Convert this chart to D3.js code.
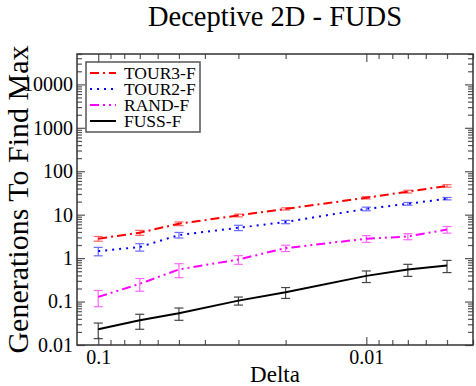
<!DOCTYPE html>
<html>
<head>
<meta charset="utf-8">
<script src="https://cdn.jsdelivr.net/npm/d3@7"></script>
<style>
  body { margin: 0; background: #fff; }
  svg { display: block; font-family: "Liberation Serif", "Times New Roman", serif; }
</style>
</head>
<body>
<div id="chart"></div>
<script>
// data
const deltas = [0.1, 0.07, 0.05, 0.03, 0.02, 0.01, 0.007, 0.005];

const tour3 = [2.8, 3.85, 6.2, 9.6, 13.6, 24.5, 34, 46];
const tour3Err = [0.35, 0.5, 0.6, 0.7, 0.8, 1.5, 2.5, 3];
const tour2 = [1.45, 1.8, 3.4, 5.0, 6.8, 13.6, 17.8, 23.4];
const tour2Err = [0.32, 0.35, 0.5, 0.7, 0.6, 1.3, 1.3, 1.5];
const rand = [0.128, 0.256, 0.55, 0.93, 1.7, 2.8, 3.15, 4.55];
const randErr = [0.052, 0.083, 0.195, 0.21, 0.28, 0.5, 0.5, 0.8];
const fuss = [0.023, 0.037, 0.054, 0.105, 0.164, 0.39, 0.55, 0.675];
const fussErr = [0.009, 0.014, 0.017, 0.022, 0.046, 0.116, 0.17, 0.21];

const seriesNames = ["TOUR3-F", "TOUR2-F", "RAND-F", "FUSS-F"];

const xMajor = [0.1, 0.01];
const yMajor = [0.01, 0.1, 1, 10, 100, 1000, 10000];
const yLabels = ["0.01", "0.1", "1", "10", "100", "1000", "10000"];

const width = 476, height = 386;
const margin = {left: 77, right: 3, top: 54, bottom: 41};

const svg = d3.select("#chart").append("svg")
    .attr("width", width)
    .attr("height", height);

const x = d3.scaleLog()
    .domain([0.12, 0.004])
    .range([margin.left, width - margin.right]);

const y = d3.scaleLog()
    .domain([0.01, 50000])
    .range([height - margin.bottom, margin.top]);

const series = [
    {name: seriesNames[0], values: tour3, err: tour3Err, color: "#ff0000", errColor: "#ff6060", dash: "9,4,2,4"},
    {name: seriesNames[1], values: tour2, err: tour2Err, color: "#0000ff", errColor: "#6a6aff", dash: "2,5"},
    {name: seriesNames[2], values: rand, err: randErr, color: "#ff00ff", errColor: "#ff66ff", dash: "9,4,2,4,2,4"},
    {name: seriesNames[3], values: fuss, err: fussErr, color: "#000000", errColor: "#444444", dash: null}
];

// minor tick values
const xMinor = [];
[0.1, 0.01, 0.001].forEach(d => {
    for (let k = 2; k <= 9; k++) {
        const v = d * k;
        if (v <= 0.12 && v >= 0.004 && v !== 0.1 && v !== 0.01) xMinor.push(v);
    }
});
const yMinor = [];
yMajor.concat([100000]).forEach(d => {
    for (let k = 2; k <= 9; k++) {
        const v = d * k;
        if (v <= 50000) yMinor.push(v);
    }
});

const plotBottom = height - margin.bottom;
const plotRight = width - margin.right;

function styleAxis(g) {
    g.select(".domain").remove();
    g.selectAll("line").attr("stroke", "#555").attr("stroke-width", 1.2);
    g.selectAll("text")
        .attr("font-family", "'Liberation Serif', 'Times New Roman', serif")
        .attr("font-size", "20px")
        .attr("fill", "#000");
}

// bottom axis
svg.append("g")
    .attr("transform", `translate(0,${plotBottom})`)
    .call(d3.axisBottom(x).tickValues(xMajor).tickFormat(d3.format("")).tickSizeInner(-8).tickSizeOuter(0).tickPadding(5))
    .call(styleAxis);
svg.append("g")
    .attr("transform", `translate(0,${plotBottom})`)
    .call(d3.axisBottom(x).tickValues(xMinor).tickFormat("").tickSizeInner(-5).tickSizeOuter(0))
    .call(styleAxis);

// top axis
svg.append("g")
    .attr("transform", `translate(0,${margin.top})`)
    .call(d3.axisTop(x).tickValues(xMajor).tickFormat("").tickSizeInner(-8).tickSizeOuter(0))
    .call(styleAxis);
svg.append("g")
    .attr("transform", `translate(0,${margin.top})`)
    .call(d3.axisTop(x).tickValues(xMinor).tickFormat("").tickSizeInner(-5).tickSizeOuter(0))
    .call(styleAxis);

// left axis
svg.append("g")
    .attr("transform", `translate(${margin.left},0)`)
    .call(d3.axisLeft(y).tickValues(yMajor).tickFormat((d, i) => yLabels[i]).tickSizeInner(-8).tickSizeOuter(0).tickPadding(4))
    .call(styleAxis);
svg.append("g")
    .attr("transform", `translate(${margin.left},0)`)
    .call(d3.axisLeft(y).tickValues(yMinor).tickFormat("").tickSizeInner(-5).tickSizeOuter(0))
    .call(styleAxis);

// right axis
svg.append("g")
    .attr("transform", `translate(${plotRight},0)`)
    .call(d3.axisRight(y).tickValues(yMajor).tickFormat("").tickSizeInner(-8).tickSizeOuter(0))
    .call(styleAxis);
svg.append("g")
    .attr("transform", `translate(${plotRight},0)`)
    .call(d3.axisRight(y).tickValues(yMinor).tickFormat("").tickSizeInner(-5).tickSizeOuter(0))
    .call(styleAxis);

// frame
svg.append("rect")
    .attr("x", margin.left)
    .attr("y", margin.top)
    .attr("width", plotRight - margin.left)
    .attr("height", plotBottom - margin.top)
    .attr("fill", "none")
    .attr("stroke", "#333")
    .attr("stroke-width", 1.5);

// series
const line = d3.line()
    .x((d, i) => x(deltas[i]))
    .y(d => y(d));

series.forEach(s => {
    const g = svg.append("g");

    // error bars
    s.values.forEach((v, i) => {
        const cx = x(deltas[i]);
        const y0 = y(v - s.err[i]);
        const y1 = y(v + s.err[i]);
        g.append("line")
            .attr("x1", cx).attr("x2", cx)
            .attr("y1", y0).attr("y2", y1)
            .attr("stroke", s.errColor)
            .attr("stroke-width", 1.2);
        [y0, y1].forEach(cy => {
            g.append("line")
                .attr("x1", cx - 4.5).attr("x2", cx + 4.5)
                .attr("y1", cy).attr("y2", cy)
                .attr("stroke", s.errColor)
                .attr("stroke-width", 1.2);
        });
    });

    g.append("path")
        .datum(s.values)
        .attr("d", line)
        .attr("fill", "none")
        .attr("stroke", s.color)
        .attr("stroke-width", 2)
        .attr("stroke-dasharray", s.dash);
});

// legend
const legend = svg.append("g")
    .attr("transform", "translate(86,62)");

legend.append("rect")
    .attr("width", 114)
    .attr("height", 70)
    .attr("fill", "#fff")
    .attr("stroke", "#555")
    .attr("stroke-width", 1.5);

series.forEach((s, i) => {
    const ly = 11 + i * 16;
    legend.append("line")
        .attr("x1", 4).attr("x2", 30)
        .attr("y1", ly).attr("y2", ly)
        .attr("stroke", s.color)
        .attr("stroke-width", 2)
        .attr("stroke-dasharray", s.dash);
    legend.append("text")
        .attr("x", 38)
        .attr("y", ly + 6)
        .attr("font-size", "17.5px")
        .text(s.name);
});

// title and axis labels
svg.append("text")
    .attr("x", (margin.left + plotRight) / 2)
    .attr("y", 26)
    .attr("text-anchor", "middle")
    .attr("font-size", "28.5px")
    .text("Deceptive 2D - FUDS");

svg.append("text")
    .attr("x", (margin.left + plotRight) / 2)
    .attr("y", 382)
    .attr("text-anchor", "middle")
    .attr("font-size", "23px")
    .text("Delta");

svg.append("text")
    .attr("transform", `translate(28,${(margin.top + plotBottom) / 2}) rotate(-90)`)
    .attr("text-anchor", "middle")
    .attr("font-size", "30px")
    .text("Generations To Find Max");
</script>
</body>
</html>
